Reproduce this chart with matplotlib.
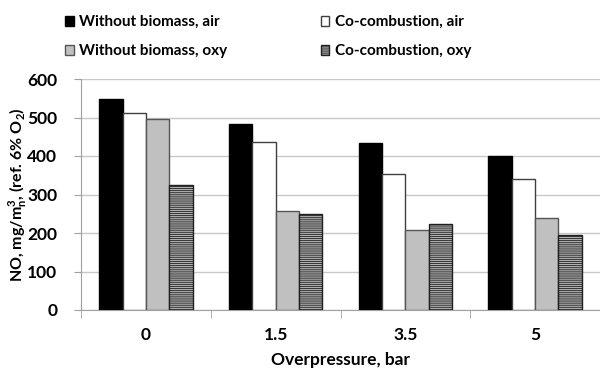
import matplotlib
matplotlib.use("Agg")
import matplotlib.pyplot as plt
import numpy as np

categories = ["0", "1.5", "3.5", "5"]
series_names = ["Without biomass, air", "Co-combustion, air",
                "Without biomass, oxy", "Co-combustion, oxy"]
without_air = [547, 482, 434, 400]
co_air = [512, 437, 353, 339]
without_oxy = [495, 258, 207, 238]
co_oxy = [325, 250, 223, 194]
yticks = [0, 100, 200, 300, 400, 500, 600]

plt.rcParams['font.family'] = ['Lato', 'DejaVu Sans']
plt.rcParams['hatch.linewidth'] = 0.6

W, H = 600, 373
fig = plt.figure(figsize=(W/100, H/100), dpi=100)
left, right, bottom, top = 81/W, 1.0, 1 - 310/H, 1 - 79/H
ax = fig.add_axes([left, bottom, right-left, top-bottom])

x = np.arange(len(categories))
bw = 0.18
styles = [
    dict(color="black", edgecolor="black"),
    dict(color="white", edgecolor="#404040"),
    dict(color="#c0c0c0", edgecolor="#555555"),
    dict(color="#b0b0b0", edgecolor="#202020", hatch="--------"),
]
data = [without_air, co_air, without_oxy, co_oxy]
handles = []
for i, (vals, st) in enumerate(zip(data, styles)):
    b = ax.bar(x + (i - 1.5) * bw, vals, bw, linewidth=1.0,
               label=series_names[i], zorder=3, **st)
    handles.append(b)

ax.set_ylim(0, 600)
ax.set_xlim(-0.5, (600 - 81) / 131.2 - 0.5)
ax.set_yticks(yticks)
ax.set_yticklabels([str(v) for v in yticks], fontsize=12.5, fontweight="bold")
ax.set_xticks(x)
ax.set_xticklabels(categories, fontsize=12.5, fontweight="bold")
ax.tick_params(axis="x", length=0, pad=12)
ax.tick_params(axis="y", length=5, color="#a0a0a0", direction="out", pad=12)
ax.set_xticks(np.arange(-0.5, len(categories), 1.0), minor=True)
ax.tick_params(axis="x", which="minor", length=6, color="#a0a0a0", direction="out")
ax.grid(axis="y", color="#c8c8c8", linewidth=1.0, zorder=0)
for s in ["top", "right"]:
    ax.spines[s].set_visible(False)
ax.spines["left"].set_color("#a0a0a0")
ax.spines["bottom"].set_color("#a0a0a0")

ax.set_xlabel("Overpressure, bar", fontsize=12.5, fontweight="bold", labelpad=7)
ax.set_ylabel(r"NO, mg/m$_\mathregular{n}^\mathregular{3}$, (ref. 6% O$_\mathregular{2}$)",
              fontsize=11.5, fontweight="bold")
ax.yaxis.set_label_coords(-0.098, 0.5)

order = [0, 2, 1, 3]
fig.legend([handles[i] for i in order], [series_names[i] for i in order],
           ncol=2, loc="upper left", bbox_to_anchor=(59/W, 1 - 9/H),
           frameon=False,
           prop=dict(weight="bold", size=11),
           handlelength=0.55, handleheight=0.65, handletextpad=0.35,
           columnspacing=6.15, labelspacing=1.0, borderaxespad=0)

fig.savefig("out.png", dpi=100)
